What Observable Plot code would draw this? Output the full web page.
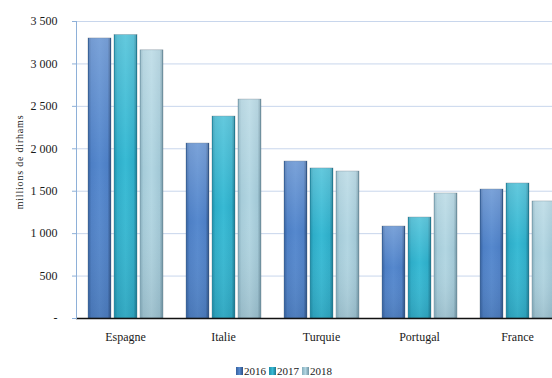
<!DOCTYPE html>
<html><head><meta charset="utf-8">
<script src="https://cdn.jsdelivr.net/npm/d3@7"></script>
<script src="https://cdn.jsdelivr.net/npm/@observablehq/plot@0.6"></script>
<style>
body{margin:0;background:#fff;font-family:"Liberation Serif",serif;color:#1a1a1a;}
#wrap{position:relative;width:552px;height:378px;overflow:hidden;}
#chart svg{max-width:none !important;overflow:hidden;}
#chart svg text{font-family:"Liberation Serif",serif;font-variant:normal !important;}
#legend{position:absolute;left:236px;top:365px;font-size:11px;display:flex;gap:3px;align-items:center;}
#legend span.sw{display:inline-block;width:7px;height:8px;margin-right:1px;}
</style></head><body><div id="wrap"><div id="chart"></div><div id="legend"></div></div>
<script>
const countries = ["Espagne", "Italie", "Turquie", "Portugal", "France"];
const years = ["2016", "2017", "2018"];
const v2016 = [3300, 2062, 1850, 1084, 1520];
const v2017 = [3340, 2380, 1768, 1190, 1591];
const v2018 = [3160, 2580, 1732, 1473, 1379];
const yTicks = [0, 500, 1000, 1500, 2000, 2500, 3000, 3500];
const yLabel = "millions de dirhams";

const series = {"2016": v2016, "2017": v2017, "2018": v2018};
const data = [];
countries.forEach((c, i) => years.forEach(y => data.push({country: c, year: y, value: series[y][i]})));

const grads = {
  "2016": ["#35609e", "#4d7fc5", "#5689ce", "#4d7fc5", "#2c4f82"],
  "2017": ["#1f8ea8", "#2eadc8", "#38bad4", "#2eadc8", "#1a7890"],
  "2018": ["#86aebd", "#a6ccd9", "#b2d6e2", "#a2c8d6", "#6f93a2"]
};

const fr = d3.formatLocale({thousands: "\u00a0", grouping: [3], decimal: ","});
const fmt = d => d === 0 ? "-" : fr.format(",")(d);

const svg = Plot.plot({
  width: 566,
  height: 360,
  marginLeft: 76,
  marginRight: 0,
  marginTop: 21,
  marginBottom: 42,
  style: {fontFamily: "Liberation Serif, serif", fontSize: "12px", color: "#1a1a1a", background: "#fff", maxWidth: "none"},
  fx: {domain: countries, padding: 0, label: null},
  x: {domain: years, paddingInner: 0.13, paddingOuter: 0.415, axis: null},
  y: {domain: [0, 3500], axis: null},
  color: {domain: years, range: years.map(y => `url(#g${y})`)},
  marks: [
    Plot.gridY(yTicks, {stroke: "#c8d6ec", strokeOpacity: 1}),
    Plot.barY(data, {fx: "country", x: "year", y: "value", fill: "year", stroke: "#4d5d6d", strokeWidth: 0.5, strokeOpacity: 0.6}),
    Plot.barY(data, {fx: "country", x: "year", y: "value", fill: "url(#shade)", insetLeft: 1, insetRight: 1}),
    Plot.ruleY([0], {stroke: "#111", strokeWidth: 1.5}),
    Plot.axisY(yTicks, {tickSize: 4, tickPadding: 15, stroke: "#8eb0d8", tickFormat: fmt, fontSize: 12, label: yLabel, labelAnchor: "center", labelOffset: 61, labelArrow: "none"}),
    Plot.axisFx({anchor: "bottom", tickSize: 0, tickPadding: 14, fontSize: 12, label: null}),
    Plot.frame({anchor: "left", stroke: "#8eb0d8", facet: "super"})
  ]
});

const defs = d3.select(svg).insert("defs", ":first-child");
years.forEach(y => {
  const g = defs.append("linearGradient").attr("id", "g" + y).attr("x1", "0").attr("x2", "1").attr("y1", "0").attr("y2", "0");
  const offs = [0, 0.15, 0.5, 0.85, 1];
  grads[y].forEach((c, i) => g.append("stop").attr("offset", offs[i]).attr("stop-color", c));
});
const sh = defs.append("linearGradient").attr("id", "shade").attr("x1", "0").attr("x2", "0").attr("y1", "0").attr("y2", "1");
sh.append("stop").attr("offset", 0).attr("stop-color", "#fff").attr("stop-opacity", 0.22);
sh.append("stop").attr("offset", 0.45).attr("stop-color", "#fff").attr("stop-opacity", 0);
sh.append("stop").attr("offset", 1).attr("stop-color", "#203040").attr("stop-opacity", 0.12);

d3.select(svg).selectAll("text").style("font-size", "12px").style("font-family", "Liberation Serif, serif");
d3.select(svg).selectAll("[aria-label='y-axis label'] text, text[aria-label='y-axis label']").each(function() {
  const t = d3.select(this);
  t.style("font-size", "10px").style("letter-spacing", "0.8px");
  const tr = t.attr("transform");
  if (tr) t.attr("transform", tr.replace(/translate\(([^,]+),([^)]+)\)/, (m, a, b) => `translate(${a},${+b - 8})`));
});
document.getElementById("chart").appendChild(svg);

const leg = d3.select("#legend");
years.forEach(y => {
  const it = leg.append("span");
  it.append("span").attr("class", "sw").style("background", `linear-gradient(90deg, ${grads[y][0]}, ${grads[y][2]}, ${grads[y][4]})`);
  it.append("span").text(y);
});
</script></body></html>
